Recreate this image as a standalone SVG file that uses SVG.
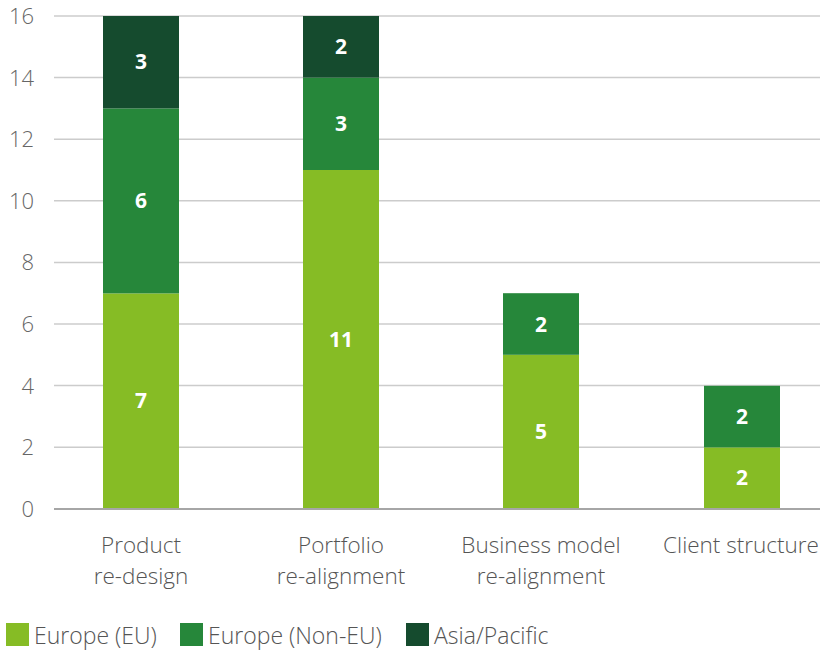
<svg xmlns="http://www.w3.org/2000/svg" width="820" height="651" viewBox="0 0 820 651">
<style>
.grid{stroke:#cccccc;stroke-width:1.5}
.base{stroke:#a6a6a6;stroke-width:2}
.tick{font-family:"Open Sans","Liberation Sans",sans-serif;font-size:22px;fill:#666666;text-anchor:end;font-weight:300}
.cat{font-family:"Open Sans","Liberation Sans",sans-serif;font-size:22.5px;fill:#555555;text-anchor:middle;font-weight:300}
.leg{font-family:"Open Sans","Liberation Sans",sans-serif;font-size:23px;fill:#555555;font-weight:300}
.val{font-family:"Open Sans","Liberation Sans",sans-serif;font-size:21px;fill:#ffffff;text-anchor:middle;font-weight:700}
.eu{fill:#86BC25}
.neu{fill:#26873A}
.ap{fill:#154B2E}
</style>
<rect width="820" height="651" fill="#ffffff"/>
<g id="axis">
<line class="grid" x1="54" y1="16" x2="820" y2="16"/>
<line class="grid" x1="54" y1="77.6" x2="820" y2="77.6"/>
<line class="grid" x1="54" y1="139.2" x2="820" y2="139.2"/>
<line class="grid" x1="54" y1="200.8" x2="820" y2="200.8"/>
<line class="grid" x1="54" y1="262.4" x2="820" y2="262.4"/>
<line class="grid" x1="54" y1="324" x2="820" y2="324"/>
<line class="grid" x1="54" y1="385.6" x2="820" y2="385.6"/>
<line class="grid" x1="54" y1="447.2" x2="820" y2="447.2"/>
<text class="tick" x="34" y="24">16</text>
<text class="tick" x="34" y="85.5">14</text>
<text class="tick" x="34" y="147">12</text>
<text class="tick" x="34" y="208.5">10</text>
<text class="tick" x="34" y="270">8</text>
<text class="tick" x="34" y="332">6</text>
<text class="tick" x="34" y="393.5">4</text>
<text class="tick" x="34" y="455">2</text>
<text class="tick" x="34" y="517">0</text>
</g>
<g id="bar-product">
<rect class="eu" x="103" y="293.4" width="76" height="215.6"/>
<rect class="neu" x="103" y="108.4" width="76" height="185"/>
<rect class="ap" x="103" y="16" width="76" height="92.4"/>
<text class="val" x="141" y="408">7</text>
<text class="val" x="141" y="208">6</text>
<text class="val" x="141" y="69">3</text>
<text class="cat" x="141" y="553">Product</text>
<text class="cat" x="141" y="584">re-design</text>
</g>
<g id="bar-portfolio">
<rect class="eu" x="303" y="170" width="76" height="339"/>
<rect class="neu" x="303" y="77.6" width="76" height="92.4"/>
<rect class="ap" x="303" y="16" width="76" height="61.6"/>
<text class="val" x="341" y="347">11</text>
<text class="val" x="341" y="131">3</text>
<text class="val" x="341" y="54">2</text>
<text class="cat" x="341" y="553">Portfolio</text>
<text class="cat" x="341" y="584">re-alignment</text>
</g>
<g id="bar-business">
<rect class="eu" x="503" y="354.8" width="76" height="154.2"/>
<rect class="neu" x="503" y="293.2" width="76" height="61.6"/>
<text class="val" x="541" y="439">5</text>
<text class="val" x="541" y="332">2</text>
<text class="cat" x="541" y="553">Business model</text>
<text class="cat" x="541" y="584">re-alignment</text>
</g>
<g id="bar-client">
<rect class="eu" x="704" y="447.4" width="76" height="61.6"/>
<rect class="neu" x="704" y="385.8" width="76" height="61.6"/>
<text class="val" x="742" y="485">2</text>
<text class="val" x="742" y="424">2</text>
<text class="cat" x="741" y="553">Client structure</text>
</g>
<line class="base" x1="54" y1="509" x2="820" y2="509"/>
<g id="legend">
<rect class="eu" x="6" y="623" width="23" height="23"/>
<text class="leg" x="34" y="644">Europe (EU)</text>
<rect class="neu" x="180" y="623" width="23" height="23"/>
<text class="leg" x="208" y="644">Europe (Non-EU)</text>
<rect class="ap" x="406" y="623" width="23" height="23"/>
<text class="leg" x="434" y="644">Asia/Pacific</text>
</g>
</svg>
